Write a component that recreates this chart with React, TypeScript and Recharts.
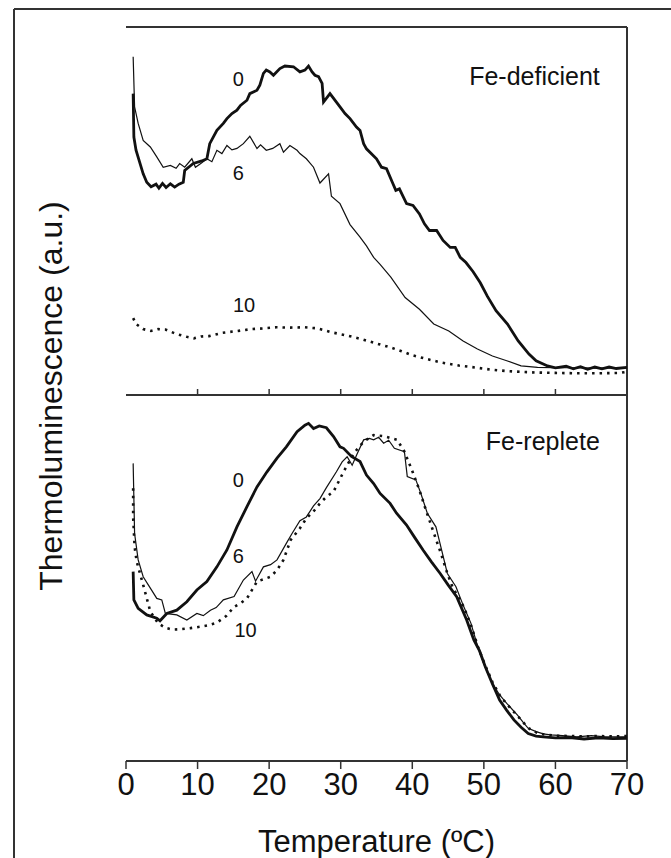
import React from 'react';
import { LineChart, Line, XAxis, YAxis, ReferenceLine, ReferenceDot } from 'recharts';

const W = 671;
const H = 858;
const FONT = '"Liberation Sans", Arial, Helvetica, sans-serif';
const INK = '#111';
const FRAME = '#333';

// temperature ticks (ºC)
const tempTicks = [0, 10, 20, 30, 40, 50, 60, 70];
const innerTicks = [10, 20, 30, 40, 50, 60];

// Fe-deficient panel, [temperature, TL a.u.]
const deficient0: [number, number][] = [
  [1.0, 81.9], [1.1, 70.1], [1.4, 66.5], [2.4, 60.1], [2.9, 57.8], [3.5, 56.6], [4.2, 57.3], [4.6, 56.2],
  [5.1, 57.5], [5.6, 56.4], [6.2, 57.4], [6.8, 56.5], [7.4, 57.3], [8.0, 57.8], [8.2, 61.0], [9.4, 62.9],
  [10.6, 63.6], [11.3, 64.2], [11.7, 68.3], [12.7, 71.9], [13.6, 73.8], [14.1, 75.1], [14.8, 76.5], [15.5, 77.4],
  [16.0, 78.7], [16.9, 80.1], [17.3, 81.9], [18.3, 82.8], [18.7, 84.2], [19.2, 87.4], [19.6, 88.3], [20.1, 87.8],
  [20.6, 86.9], [21.5, 88.7], [22.2, 89.4], [23.4, 89.2], [24.3, 87.8], [25.0, 88.3], [25.5, 89.4], [26.0, 87.8],
  [26.4, 86.9], [26.9, 86.5], [27.4, 84.7], [27.6, 79.6], [28.5, 81.9], [29.9, 78.3], [30.6, 76.5], [31.3, 75.1],
  [32.2, 72.8], [32.7, 71.9], [33.2, 68.3], [33.6, 66.9], [35.0, 64.2], [35.7, 61.9], [36.4, 61.5], [37.3, 57.4],
  [37.7, 55.6], [38.2, 56.0], [39.2, 52.0], [40.1, 51.5], [41.0, 49.2], [41.7, 46.5], [42.4, 44.7], [43.4, 44.7],
  [44.3, 42.0], [45.3, 40.1], [46.0, 40.1], [46.7, 37.4], [47.5, 36.0], [48.5, 33.5], [49.5, 30.5], [50.5, 26.8],
  [51.7, 22.9], [53.3, 19.3], [54.8, 14.7], [56.3, 11.1], [57.3, 9.3], [58.9, 7.9], [60.0, 7.4], [61.5, 7.8],
  [62.5, 7.1], [63.5, 7.7], [64.5, 7.0], [65.5, 7.6], [66.5, 7.1], [67.5, 7.6], [68.5, 7.2], [70, 7.5],
];

const deficient6: [number, number][] = [
  [1.0, 91.9], [1.2, 78.3], [1.7, 73.8], [2.4, 69.2], [3.4, 67.4], [4.3, 64.7], [5.2, 61.9], [6.2, 62.4],
  [7.0, 61.6], [7.5, 62.9], [8.2, 61.9], [9.2, 64.2], [9.7, 61.9], [10.5, 63.0], [11.3, 64.2], [12.0, 63.4],
  [12.7, 66.5], [13.4, 65.6], [14.1, 67.8], [14.8, 66.6], [15.5, 67.0], [16.4, 68.3], [17.3, 70.3], [18.3, 67.0],
  [18.8, 68.0], [19.6, 66.5], [20.5, 67.0], [21.5, 68.3], [22.0, 66.0], [22.9, 67.8], [23.9, 66.5], [24.3, 65.6],
  [25.2, 64.2], [26.2, 61.9], [27.1, 57.6], [28.3, 60.1], [28.7, 54.0], [29.9, 52.0], [31.3, 46.3], [32.7, 42.9],
  [33.6, 40.5], [34.6, 37.4], [35.5, 35.5], [37.0, 32.0], [39.0, 26.5], [41.0, 23.3], [43.0, 19.3], [45.1, 17.4],
  [47.1, 14.7], [49.1, 12.5], [51.2, 10.6], [53.2, 9.3], [55.2, 7.9], [57.5, 7.5], [59.8, 7.4], [62, 7.4],
  [66, 7.3], [70, 7.4],
];

const deficient10: [number, number][] = [
  [1.0, 20.9], [1.4, 19.3], [2.4, 17.9], [3.5, 17.4], [4.5, 17.9], [5.5, 17.8], [7.0, 16.6], [8.5, 15.8],
  [9.5, 15.4], [10.5, 15.9], [11.6, 16.0], [13.5, 16.9], [15.6, 17.4], [17.5, 17.9], [19.2, 18.1], [21.0, 18.4],
  [22.7, 18.3], [25.0, 18.4], [26.8, 18.1], [28.8, 17.0], [30.8, 16.2], [32.9, 15.2], [35.0, 14.0], [37.0, 12.9],
  [38.5, 11.9], [40.0, 10.8], [42.0, 9.8], [44.1, 8.8], [46.5, 8.0], [49.1, 7.4], [51.0, 6.9], [53.2, 6.5],
  [55.0, 6.3], [57.3, 6.1], [60, 6.0], [63, 5.9], [66, 5.9], [69, 6.0], [70, 6.3],
];

// Fe-replete panel
const replete0: [number, number][] = [
  [1.0, 51.6], [1.1, 43.9], [1.7, 41.6], [2.9, 39.8], [4.3, 38.9], [4.75, 38.2], [5.7, 40.2], [7.1, 41.1],
  [8.5, 43.4], [9.9, 46.6], [11.3, 48.9], [12.7, 52.9], [14.1, 57.5], [15.5, 63.8], [16.9, 69.3], [18.3, 74.7],
  [19.7, 78.8], [21.1, 82.5], [22.4, 85.6], [23.9, 89.7], [25.0, 91.5], [25.5, 92.0], [26.2, 90.6], [27.0, 91.3],
  [28.0, 90.8], [29.0, 88.4], [29.9, 85.6], [30.4, 85.2], [31.5, 83.0], [32.7, 81.6], [33.6, 77.9], [34.6, 75.6],
  [35.5, 72.9], [36.9, 70.2], [37.8, 67.5], [39.2, 64.3], [40.3, 61.0], [41.5, 57.5], [42.7, 54.2], [43.9, 51.1],
  [45.0, 48.0], [46.2, 44.8], [47.6, 38.4], [48.6, 33.0], [49.4, 30.0], [50.2, 25.7], [51.2, 21.0], [52.2, 16.6],
  [53.2, 13.8], [54.2, 11.2], [55.2, 9.2], [56.2, 7.5], [57.3, 6.8], [58.3, 6.6], [60, 6.3], [62, 6.4],
  [64, 6.0], [66, 6.3], [68, 6.1], [70, 6.2],
];

const replete6: [number, number][] = [
  [1.0, 81.1], [1.2, 62.0], [1.7, 54.8], [2.4, 50.2], [3.4, 47.1], [4.3, 44.3], [5.0, 43.9], [5.5, 40.2],
  [7.1, 39.8], [8.5, 38.4], [9.9, 40.2], [10.8, 39.6], [11.8, 41.1], [12.6, 41.8], [13.6, 43.9], [15.1, 44.8],
  [16.4, 49.3], [17.6, 51.6], [18.1, 49.0], [19.2, 52.9], [20.2, 53.5], [21.1, 54.8], [22.4, 59.3], [23.2, 62.0],
  [24.3, 65.5], [25.2, 66.5], [26.2, 69.5], [27.1, 71.5], [28.0, 74.5], [29.4, 78.8], [30.2, 81.5], [30.9, 82.9],
  [31.6, 80.6], [32.3, 83.7], [33.2, 87.5], [34.0, 87.9], [34.6, 87.5], [35.3, 88.2], [36.0, 86.6], [36.7, 87.4],
  [37.5, 85.2], [38.9, 84.3], [39.3, 77.5], [40.5, 76.6], [41.2, 72.9], [42.1, 67.5], [43.3, 63.8], [44.0, 58.3],
  [44.9, 51.1], [46.1, 47.5], [47.2, 42.0], [48.2, 37.5], [49.2, 30.8], [50.2, 25.5], [51.2, 21.2], [52.2, 18.0],
  [53.2, 15.7], [54.7, 12.5], [55.5, 10.5], [56.2, 8.9], [57.3, 8.0], [58.3, 7.4], [59.3, 7.1], [61, 6.9],
  [63, 6.6], [65, 6.9], [67, 6.6], [70, 6.6],
];

const replete10: [number, number][] = [
  [1.0, 74.3], [1.0, 66.5], [1.2, 58.4], [1.5, 54.3], [2.4, 48.0], [3.4, 40.7], [4.5, 37.5], [5.5, 36.3],
  [6.5, 35.8], [7.6, 35.9], [9.0, 36.2], [10.4, 36.6], [11.5, 37.0], [12.7, 37.7], [14.0, 39.5], [15.1, 42.0],
  [16.0, 43.0], [16.9, 44.3], [18.3, 48.9], [19.2, 49.5], [20.2, 50.2], [21.1, 52.0], [22.0, 54.8], [23.0, 60.2],
  [24.3, 63.4], [25.2, 66.1], [26.2, 68.0], [27.1, 70.2], [28.0, 72.0], [29.0, 73.4], [30.4, 78.8], [31.8, 83.8],
  [33.2, 87.0], [34.6, 88.8], [36.0, 88.5], [37.9, 87.5], [38.9, 84.3], [40.0, 79.0], [41.0, 73.8], [41.9, 68.4],
  [43.1, 61.6], [44.0, 56.6], [44.9, 51.1], [45.6, 47.5], [47.2, 42.0], [48.2, 37.0], [49.2, 31.0], [50.2, 26.0],
  [51.2, 21.5], [52.2, 18.0], [53.2, 15.5], [54.7, 12.3], [56.2, 9.0], [57.3, 7.8], [58.5, 7.2], [60, 6.9],
  [62, 6.8], [64, 6.7], [66, 6.8], [68, 6.7], [70, 6.8],
];

// curve annotations: [text, temperature, value]
const deficientNotes: [string, number, number][] = [['0', 15.7, 86.0], ['6', 15.7, 60.4], ['10', 16.5, 24.4]];
const repleteNotes: [string, number, number][] = [['0', 15.7, 76.6], ['6', 15.7, 56.0], ['10', 16.7, 35.7]];

const rows = (pts: [number, number][]) => pts.map(([t, v]) => ({ t, v }));

const axisLine = { stroke: FRAME, strokeWidth: 2 };
const emptyTick = () => <g />;

const Curves = ({ thick, thin, dotted }: any) => [
  <Line key="thin" data={rows(thin)} dataKey="v" type="linear" stroke={INK} strokeWidth={1.2} dot={false} activeDot={false} isAnimationActive={false} />,
  <Line key="dotted" data={rows(dotted)} dataKey="v" type="linear" stroke={INK} strokeWidth={2.6} strokeDasharray="2.5 5" dot={false} activeDot={false} isAnimationActive={false} />,
  <Line key="thick" data={rows(thick)} dataKey="v" type="linear" stroke={INK} strokeWidth={2.8} dot={false} activeDot={false} isAnimationActive={false} />,
];

const noteDots = (notes: [string, number, number][], title: string, titleY: number) => [
  ...notes.map(([text, t, v]) => (
    <ReferenceDot key={text} x={t} y={v} r={0} fill="none" stroke="none"
      label={{ value: text, position: 'center', fontSize: 20, fill: INK, fontFamily: FONT }} />
  )),
  <ReferenceDot key="title" x={66.2} y={titleY} r={0} fill="none" stroke="none"
    label={{ value: title, position: 'left', offset: 0, fontSize: 25, fill: INK, fontFamily: FONT }} />,
];

export default function App() {
  return (
    <div style={{ position: 'absolute', left: 0, top: 0, width: W, height: H, overflow: 'hidden', background: '#fff', fontFamily: FONT }}>
      <div style={{ position: 'absolute', left: 0, top: 0 }}>
        <LineChart width={W} height={H} margin={{ top: 27, right: 44, bottom: 463, left: 126 }}>
          <XAxis type="number" dataKey="t" domain={[0, 70]} ticks={innerTicks} height={1} mirror tickSize={6}
            tick={emptyTick} axisLine={axisLine} tickLine={{ stroke: FRAME, strokeWidth: 1.5 }} />
          <YAxis type="number" domain={[0, 100]} width={0} tick={false} tickLine={false} axisLine={axisLine} />
          <ReferenceLine y={100} stroke={FRAME} strokeWidth={2} />
          <ReferenceLine y={0} stroke={FRAME} strokeWidth={2} />
          <ReferenceLine x={70} stroke={FRAME} strokeWidth={2} />
          {Curves({ thick: deficient0, thin: deficient6, dotted: deficient10 })}
          {noteDots(deficientNotes, 'Fe-deficient', 86.6)}
        </LineChart>
      </div>

      <div style={{ position: 'absolute', left: 0, top: 0 }}>
        <LineChart width={W} height={H} margin={{ top: 394, right: 44, bottom: 0, left: 126 }}>
          <XAxis type="number" dataKey="t" domain={[0, 70]} ticks={tempTicks} height={97} tickSize={8} tickMargin={4}
            axisLine={axisLine} tickLine={{ stroke: FRAME, strokeWidth: 1.5 }}
            tick={{ fontSize: 31, fill: INK, fontFamily: FONT }}
            label={{ value: 'Temperature (ºC)', position: 'insideBottom', offset: 6, fontSize: 31, fill: INK, fontFamily: FONT }} />
          <YAxis type="number" domain={[0, 100]} width={0} tick={false} tickLine={false} axisLine={axisLine} />
          <ReferenceLine x={70} stroke={FRAME} strokeWidth={2} />
          {Curves({ thick: replete0, thin: replete6, dotted: replete10 })}
          {noteDots(repleteNotes, 'Fe-replete', 87.2)}
        </LineChart>
      </div>

      <svg width={W} height={H} style={{ position: 'absolute', left: 0, top: 0, pointerEvents: 'none' }}>
        <text transform="translate(62,396) rotate(-90)" textAnchor="middle" fontSize={32} fill={INK} fontFamily={FONT}>
          Thermoluminescence (a.u.)
        </text>
        <line x1={14} y1={9} x2={W} y2={9} stroke={FRAME} strokeWidth={2} />
        <line x1={14} y1={9} x2={14} y2={H} stroke={FRAME} strokeWidth={2} />
      </svg>
    </div>
  );
}
